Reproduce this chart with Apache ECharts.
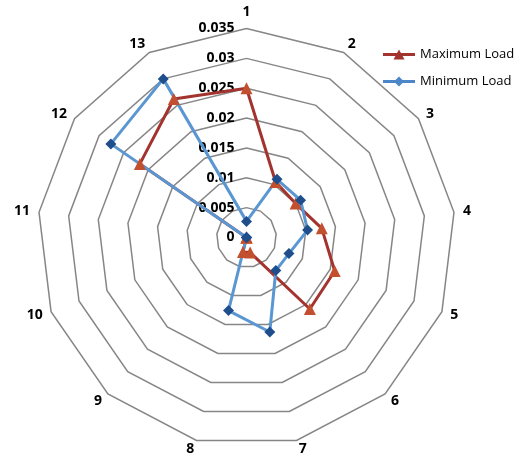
<!DOCTYPE html>
<html>
<head>
<meta charset="utf-8">
<script src="https://cdn.jsdelivr.net/npm/echarts@6/dist/echarts.min.js"></script>
<style>html,body{margin:0;padding:0;background:#fff}#c{width:521px;height:461px}</style>
</head>
<body>
<div id="c"></div>
<script>
var categories = ['1','2','3','4','5','6','7','8','9','10','11','12','13'];
var maxLoad = [0.025, 0.0105, 0.0100, 0.0127, 0.0158, 0.0160, 0.0026, 0.0025, 0, 0, 0, 0.0217, 0.0262];
var minLoad = [0.0027, 0.0110, 0.0110, 0.0103, 0.0076, 0.0074, 0.0163, 0.0126, 0, 0, 0, 0.0276, 0.0300];
var seriesNames = ['Maximum Load', 'Minimum Load'];
var axisMax = 0.035;
var axisSplits = 7;

// ECharts lays radar indicators counter-clockwise; reorder so they read clockwise.
var order = [0];
for (var i = categories.length - 1; i >= 1; i--) order.push(i);
function reorder(arr) { return order.map(function (k) { return arr[k]; }); }

var font = 'Open Sans';
var indicators = reorder(categories).map(function (name, idx) {
  var ind = { name: name, min: 0, max: axisMax };
  if (idx === 0) {
    ind.axisLabel = {
      show: true, color: '#000', fontWeight: 'bold', fontSize: 14, fontFamily: font, margin: 12,
      verticalAlign: 'middle', padding: [8, 0, 0, 0],
      formatter: function (v) { return String(+v.toFixed(3)); }
    };
  }
  return ind;
});

var triIcon = 'path://M0,3.5 L32,3.5 L32,6.5 L0,6.5 Z M16,0 L21.5,10 L10.5,10 Z';
var diaIcon = 'path://M0,3.5 L32,3.5 L32,6.5 L0,6.5 Z M16,0 L21,5 L16,10 L11,5 Z';

var chart = echarts.init(document.getElementById('c'), null, { renderer: 'canvas' });
chart.setOption({
  animation: false,
  backgroundColor: '#fff',
  legend: {
    orient: 'vertical', left: 378, top: 43, itemGap: 14, itemWidth: 32, itemHeight: 10,
    textStyle: { color: '#000', fontSize: 13, fontFamily: font },
    data: [
      { name: seriesNames[0], icon: triIcon, itemStyle: { color: '#A3332E' } },
      { name: seriesNames[1], icon: diaIcon, itemStyle: { color: '#4A86C8' } }
    ]
  },
  radar: {
    center: [246.5, 237.5], radius: 209, startAngle: 90,
    shape: 'polygon', splitNumber: axisSplits,
    indicator: indicators,
    axisName: { color: '#000', fontWeight: 'bold', fontSize: 14, fontFamily: font },
    nameGap: 9,
    axisLine: { show: false },
    axisTick: { show: false },
    axisLabel: { show: false },
    splitLine: { lineStyle: { color: '#868686', width: 1.5 } },
    splitArea: { show: false }
  },
  series: [{
    type: 'radar',
    data: [
      {
        name: seriesNames[0], value: reorder(maxLoad),
        symbol: 'triangle', symbolSize: 12,
        lineStyle: { color: '#A3332E', width: 3 },
        itemStyle: { color: '#C2502F' }
      },
      {
        name: seriesNames[1], value: reorder(minLoad),
        symbol: 'diamond', symbolSize: 11,
        lineStyle: { color: '#5A96D2', width: 3 },
        itemStyle: { color: '#1F4E8C' }
      }
    ]
  }]
});
</script>
</body>
</html>
